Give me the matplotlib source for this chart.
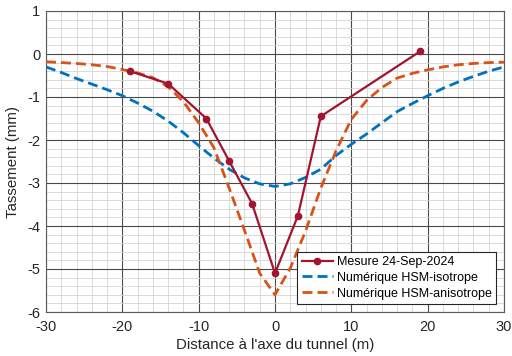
import matplotlib

matplotlib.use("Agg")
import matplotlib.pyplot as plt
from matplotlib.ticker import MultipleLocator

plt.rcParams["font.family"] = ["Liberation Sans", "DejaVu Sans"]
plt.rcParams["axes.unicode_minus"] = False

# ---- data ------------------------------------------------------------------
mesure_x = [-19, -14, -9, -6, -3, 0, 3, 6, 19]
mesure_y = [-0.40, -0.69, -1.50, -2.49, -3.48, -5.10, -3.76, -1.45, 0.06]

model_x = [-30, -28, -26, -24, -22, -20, -18, -16, -14, -12, -10, -8, -6, -4, -2,
           0, 2, 4, 6, 8, 10, 12, 14, 16, 18, 20, 22, 24, 26, 28, 30]
iso_y = [-0.30, -0.43, -0.57, -0.70, -0.83, -0.97, -1.14, -1.33, -1.56, -1.83, -2.13,
         -2.42, -2.68, -2.88, -3.02, -3.08, -3.02, -2.87, -2.68, -2.36, -2.10,
         -1.86, -1.60, -1.34, -1.15, -0.97, -0.80, -0.65, -0.52, -0.40, -0.30]
aniso_y = [-0.18, -0.20, -0.22, -0.25, -0.29, -0.36, -0.44, -0.55, -0.76, -1.11, -1.60,
           -2.18, -3.12, -4.10, -5.10, -5.60, -4.98, -4.12, -3.12, -2.25, -1.52,
           -1.08, -0.78, -0.56, -0.45, -0.37, -0.30, -0.25, -0.22, -0.20, -0.19]

fig = plt.figure(figsize=(5.12, 3.56), dpi=100)
ax = fig.add_axes([46 / 512, 1 - 312 / 356, 458 / 512, 301 / 356])

ax.plot(mesure_x, mesure_y, color="#A2142F", marker="o", markersize=4.5,
        linewidth=1.6, label="Mesure 24-Sep-2024", zorder=4)
ax.plot(model_x, iso_y, color="#0072BD", linestyle=(0, (3.6, 1.8)),
        linewidth=2.0, label="Numérique HSM-isotrope", zorder=3)
ax.plot(model_x, aniso_y, color="#D95319", linestyle=(0, (3.6, 1.8)),
        linewidth=2.0, label="Numérique HSM-anisotrope", zorder=3)

ax.set_xlim(-30, 30)
ax.set_ylim(-6, 1)
ax.xaxis.set_major_locator(MultipleLocator(10))
ax.xaxis.set_minor_locator(MultipleLocator(2))
ax.yaxis.set_major_locator(MultipleLocator(1))
ax.yaxis.set_minor_locator(MultipleLocator(0.2))
ax.grid(True, which="major", color="#4a4a4a", linewidth=0.8)
ax.grid(True, which="minor", color="#d4d4d4", linewidth=0.6)
ax.set_axisbelow(True)
ax.tick_params(which="both", length=0, labelsize=10.5, colors="#262626")
ax.tick_params(axis="x", pad=6)
ax.tick_params(axis="y", pad=4)
for s in ax.spines.values():
    s.set_color("#5a5a5a")
    s.set_linewidth(0.8)

ax.set_xlabel("Distance à l'axe du tunnel (m)", fontsize=10.8, color="#262626", labelpad=3)
ax.set_ylabel("Tassement (mm)", fontsize=10.8, color="#262626", labelpad=5)

leg = ax.legend(loc="lower right", fontsize=9, frameon=True, fancybox=False,
                edgecolor="#262626", framealpha=1, borderpad=0.35, labelspacing=0.3,
                handlelength=2.5, handletextpad=0.3, borderaxespad=0.65)
leg.get_frame().set_linewidth(0.8)

fig.savefig("out.png", dpi=100)
